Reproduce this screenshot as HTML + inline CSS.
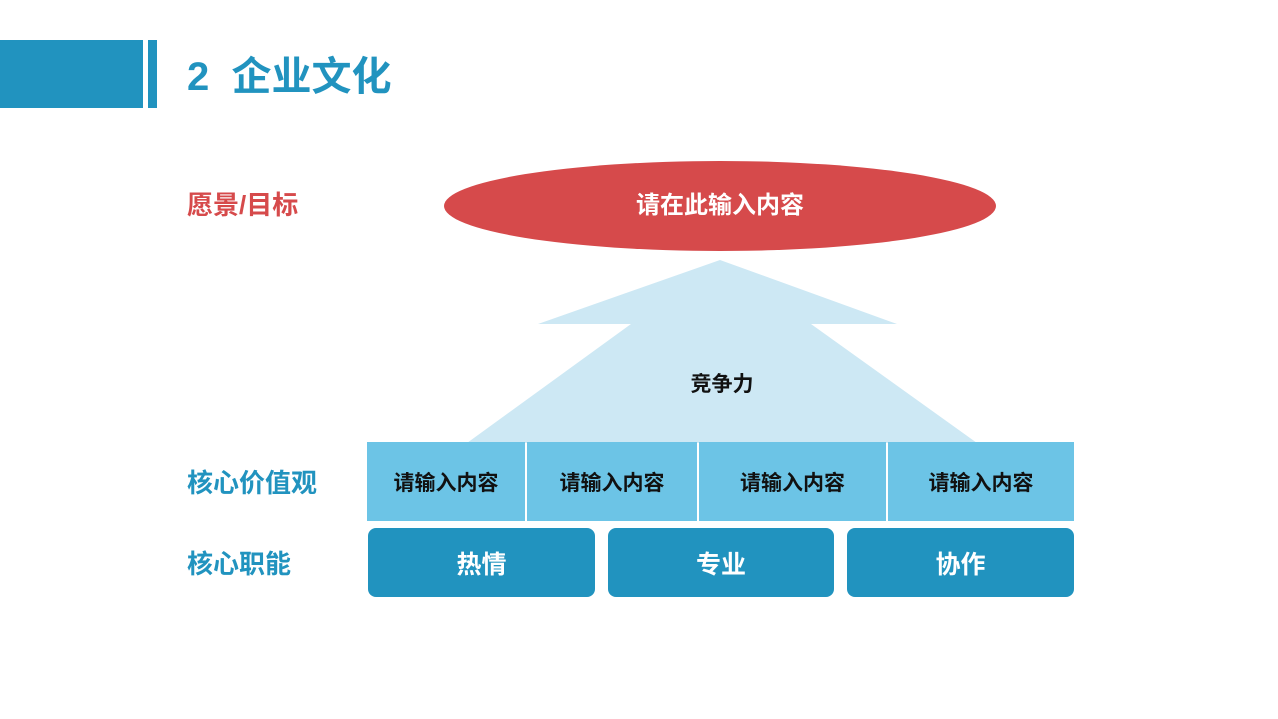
<!DOCTYPE html>
<html><head><meta charset="utf-8"><style>
body{margin:0;width:1278px;height:719px;background:#fff;position:relative;overflow:hidden;font-family:"Liberation Sans","Noto Sans CJK SC",sans-serif;font-weight:bold}
.a{position:absolute}
.lbl{position:absolute;font-size:26px;line-height:30px}
.cell{position:absolute;top:442px;height:79px;background:#6cc4e6;color:#111;font-size:21px;display:flex;align-items:center;justify-content:center}
.btn{position:absolute;top:528px;height:69px;background:#2193bf;color:#fff;font-size:25px;border-radius:8px;display:flex;align-items:center;justify-content:center}
</style></head><body>
<div class="a" style="left:0;top:40px;width:143px;height:68px;background:#2193bf"></div>
<div class="a" style="left:148px;top:40px;width:9px;height:68px;background:#2193bf"></div>
<div class="a" style="left:187px;top:54px;font-size:40px;line-height:46px;color:#2193bf">2&nbsp; 企业文化</div>
<div class="lbl" style="left:187px;top:190px;color:#d64a4b">愿景/目标</div>
<div class="lbl" style="left:187px;top:468px;color:#2193bf">核心价值观</div>
<div class="lbl" style="left:187px;top:549px;color:#2193bf">核心职能</div>
<svg class="a" style="left:0;top:0" width="1278" height="719">
<ellipse cx="720" cy="206" rx="276" ry="45" fill="#d64a4b"/>
<polygon points="720,260 897,324 811,324 977,443 467,443 631,324 538,324" fill="#cde8f4"/>
</svg>
<div class="a" style="left:445px;top:191px;width:550px;text-align:center;color:#fff;font-size:24px;line-height:30px">请在此输入内容</div>
<div class="a" style="left:660px;top:371px;width:124px;text-align:center;color:#111;font-size:21px;line-height:28px">竞争力</div>
<div class="cell" style="left:367px;width:158px">请输入内容</div>
<div class="cell" style="left:527px;width:170px">请输入内容</div>
<div class="cell" style="left:699px;width:187px">请输入内容</div>
<div class="cell" style="left:888px;width:186px">请输入内容</div>
<div class="btn" style="left:368px;width:227px">热情</div>
<div class="btn" style="left:608px;width:226px">专业</div>
<div class="btn" style="left:847px;width:227px">协作</div>
</body></html>
